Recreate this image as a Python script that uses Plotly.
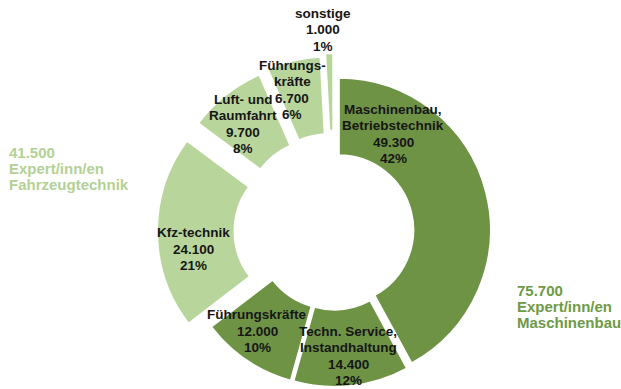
import math
import plotly.graph_objects as go

# Beschäftigte nach Bereich (Ring, im Uhrzeigersinn ab 12 Uhr)
names = ["Maschinenbau,<br>Betriebstechnik", "Techn. Service,<br>Instandhaltung",
         "Führungskräfte", "Kfz-technik", "Luft- und<br>Raumfahrt",
         "Führungs-<br>kräfte", "sonstige"]
values = [49300, 14400, 12000, 24100, 9700, 6700, 1000]
groups = ["Maschinenbau", "Maschinenbau", "Maschinenbau",
          "Fahrzeugtechnik", "Fahrzeugtechnik", "Fahrzeugtechnik", "Fahrzeugtechnik"]
group_names = ["Fahrzeugtechnik", "Maschinenbau"]

# styling
DARK = "#6e9345"
LIGHT = "#b8d69b"
GROUP_TEXT = {"Fahrzeugtechnik": "#b3d195", "Maschinenbau": "#6f9a45"}
fills = [DARK if g == "Maschinenbau" else LIGHT for g in groups]
pulls_px = [5, 4, 4, 25, 22, 23, 26]
label_pos = [(393, 134), (348, 356), (257, 331), (193, 249), (243, 124), (292, 90), (323, 30)]
group_pos = {"Fahrzeugtechnik": (7, 152), "Maschinenbau": (515, 290)}
LINE = 16.3

W, H = 621, 389
CX, CY, R = 334, 231, 152
FONT = "Arial, Liberation Sans, sans-serif"


def de(n):
    return f"{n:,}".replace(",", ".")


total = sum(values)
n = len(values)
fig = go.Figure()
annotations = []


def add_lines(lines, x, yc, size, color, anchor):
    m = len(lines)
    for k, line in enumerate(lines):
        y = yc + (k - (m - 1) / 2) * LINE
        annotations.append(dict(
            x=x / W, y=1 - y / H, xref="paper", yref="paper", showarrow=False,
            xanchor=anchor, yanchor="middle", text=line,
            font=dict(family=FONT, size=size, color=color, weight="bold"),
        ))


cum = 0
for i, v in enumerate(values):
    mid = (cum + v / 2) / total * 2 * math.pi
    cum += v
    px = CX + pulls_px[i] * math.sin(mid)
    py = CY - pulls_px[i] * math.cos(mid)
    colors = ["rgba(0,0,0,0)"] * n
    colors[i] = fills[i]
    widths = [0] * n
    widths[i] = 2
    fig.add_trace(go.Pie(
        values=values, labels=names, sort=False, direction="clockwise", rotation=0,
        hole=0.49, textinfo="none", hoverinfo="skip", showlegend=False,
        marker=dict(colors=colors, line=dict(color="white", width=widths)),
        domain=dict(x=[(px - R) / W, (px + R) / W], y=[1 - (py + R) / H, 1 - (py - R) / H]),
    ))
    lx, ly = label_pos[i]
    pct = round(v / total * 100)
    lines = names[i].split("<br>") + [de(v), f"{pct}%"]
    add_lines(lines, lx, ly, 13.5, "#161616", "center")

# Summen je Gruppe
for g in group_names:
    gsum = sum(v for v, gg in zip(values, groups) if gg == g)
    gx, gy = group_pos[g]
    add_lines([de(gsum), "Expert/inn/en", g], gx, gy + LINE, 15, GROUP_TEXT[g], "left")

fig.update_layout(
    width=W, height=H, autosize=False,
    margin=dict(l=0, r=0, t=0, b=0),
    paper_bgcolor="white", plot_bgcolor="white",
    annotations=annotations,
)

fig.write_html("out.html")
